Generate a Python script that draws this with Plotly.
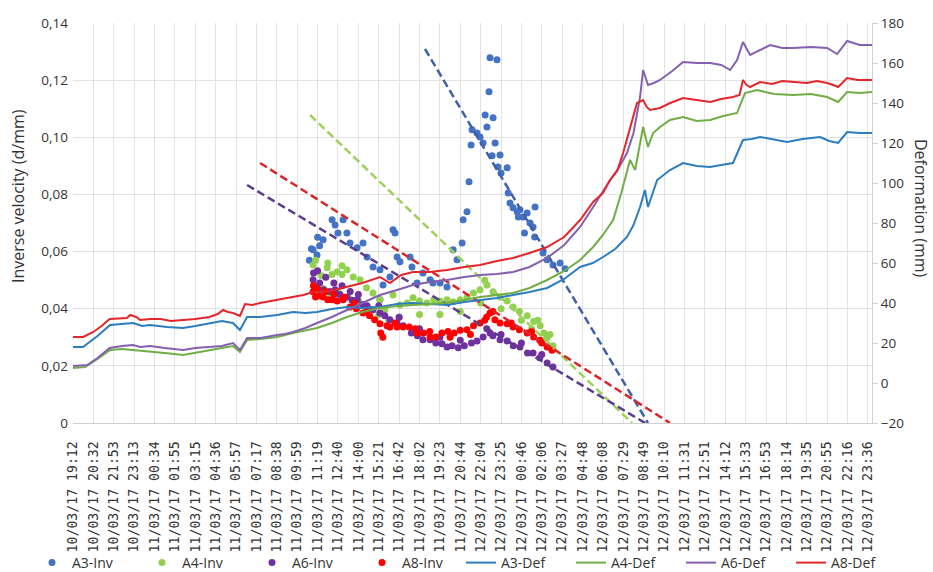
import plotly.graph_objects as go

# ---------------- tick labels (category axis, one label per gridline) ----------------
time_labels = [
    "10/03/17 19:12", "10/03/17 20:32", "10/03/17 21:53", "10/03/17 23:13",
    "11/03/17 00:34", "11/03/17 01:55", "11/03/17 03:15", "11/03/17 04:36",
    "11/03/17 05:57", "11/03/17 07:17", "11/03/17 08:38", "11/03/17 09:59",
    "11/03/17 11:19", "11/03/17 12:40", "11/03/17 14:00", "11/03/17 15:21",
    "11/03/17 16:42", "11/03/17 18:02", "11/03/17 19:23", "11/03/17 20:44",
    "12/03/17 22:04", "12/03/17 23:25", "12/03/17 00:46", "12/03/17 02:06",
    "12/03/17 03:27", "12/03/17 04:48", "12/03/17 06:08", "12/03/17 07:29",
    "12/03/17 08:49", "12/03/17 10:10", "12/03/17 11:31", "12/03/17 12:51",
    "12/03/17 14:12", "12/03/17 15:33", "12/03/17 16:53", "12/03/17 18:14",
    "12/03/17 19:35", "12/03/17 20:55", "12/03/17 22:16", "12/03/17 23:36",
]
inv_ticks = [0, 0.02, 0.04, 0.06, 0.08, 0.10, 0.12, 0.14]
inv_tick_text = ["0", "0,02", "0,04", "0,06", "0,08", "0,10", "0,12", "0,14"]
def_ticks = [-20, 0, 20, 40, 60, 80, 100, 120, 140, 160, 180]

# ---------------- deformation series (x = position in label units, y = mm) ----------------
a8_def_t = [0, 0.5, 1.0, 1.4, 1.8, 2.3, 2.65, 2.8, 2.94, 3.1, 3.3, 3.8, 4.3, 4.8, 5.4, 6.0, 6.7, 7.1, 7.36, 7.6,
            7.85, 8.19, 8.44, 8.8, 9.18, 9.7, 10.2, 10.8, 11.3, 11.8, 12.6, 13.4, 14.2, 15.06, 15.55, 16.1, 16.68, 17.5, 18.35, 19.2,
            19.97, 20.8, 21.59, 22.4, 23.26, 24.1, 24.88, 25.52, 26.0, 26.35, 26.7, 26.99, 27.3, 27.67, 27.97, 28.15, 28.31, 28.8, 29.3, 29.93,
            30.6, 31.26, 31.8, 32.38, 32.7, 32.87, 33.05, 33.22, 33.71, 34.3, 34.8, 35.33, 36.0, 36.5, 37.0, 37.3, 37.54, 37.98, 38.5, 39.2]
a8_def = [23.0, 23.0, 25.5, 28.5, 32.0, 32.5, 32.5, 34.0, 33.5, 33.0, 31.5, 32.0, 32.0, 31.0, 31.5, 32.0, 33.0, 34.5, 36.5, 35.5,
          35.0, 33.5, 39.5, 39.0, 40.0, 41.0, 42.0, 43.0, 44.0, 45.5, 46.0, 48.0, 50.0, 53.0, 50.0, 54.0, 55.5, 55.5, 56.5, 58.0,
          59.0, 61.0, 62.5, 65.0, 68.0, 73.0, 81.5, 90.5, 95.0, 101.5, 106.0, 115.0, 126.0, 140.0, 141.5, 138.0, 136.5, 137.5, 140.0, 142.5,
          141.5, 140.5, 142.0, 143.0, 144.0, 151.5, 149.0, 148.0, 150.5, 149.5, 151.0, 150.5, 150.0, 151.0, 150.0, 149.0, 148.0, 152.5, 151.5, 151.5]

a6_def_t = [0, 0.7, 1.2, 1.8, 2.4, 2.94, 3.3, 3.78, 4.5, 5.4, 6.0, 6.72, 7.3, 7.85, 8.19, 8.54, 9.2, 10.01, 10.4, 10.79,
            11.4, 11.97, 12.7, 13.44, 14.2, 15.06, 15.9, 16.68, 17.5, 18.35, 19.2, 19.97, 20.8, 21.59, 22.4, 23.26, 24.1, 24.88, 25.52, 26.35,
            26.8, 27.18, 27.5, 27.82, 27.97, 28.21, 28.5, 28.8, 29.4, 29.93, 30.6, 31.26, 31.8, 32.24, 32.58, 32.87, 33.22, 33.7, 34.2, 34.8,
            35.33, 36.2, 37.0, 37.49, 37.98, 38.6, 39.2]
a6_def = [8.5, 9.0, 12.5, 17.5, 18.5, 19.0, 18.0, 18.5, 17.5, 16.5, 17.5, 18.0, 18.5, 20.0, 16.5, 22.5, 22.5, 24.0, 24.5, 25.5,
          27.5, 30.0, 33.0, 36.5, 40.0, 44.0, 46.5, 49.0, 50.5, 51.5, 53.0, 54.0, 54.5, 55.5, 58.0, 62.5, 69.0, 78.0, 88.0, 101.5,
          108.0, 115.0, 125.0, 143.0, 156.5, 149.0, 150.0, 151.5, 156.0, 160.5, 160.0, 160.0, 159.0, 156.5, 161.5, 170.5, 164.0, 166.5, 169.0, 167.5,
          167.5, 168.0, 167.5, 164.5, 171.0, 169.0, 169.0]

a4_def_t = [0, 0.6, 1.2, 1.82, 2.4, 3.0, 3.78, 4.5, 5.4, 6.0, 6.72, 7.3, 7.85, 8.19, 8.54, 9.2, 10.01, 10.8, 11.97, 12.7,
            13.44, 14.2, 15.06, 15.9, 16.68, 17.5, 18.35, 19.2, 19.97, 20.8, 21.59, 22.4, 23.26, 24.1, 24.88, 25.52, 26.0, 26.5, 26.9, 27.33,
            27.58, 27.97, 28.21, 28.46, 28.8, 29.29, 29.93, 30.6, 31.26, 31.9, 32.58, 32.97, 33.56, 34.4, 35.33, 36.2, 37.0, 37.54, 37.98, 38.6,
            39.2]
a4_def = [7.5, 8.0, 12.0, 16.5, 17.0, 16.5, 15.5, 15.0, 14.0, 15.0, 16.5, 17.5, 18.5, 15.5, 21.5, 22.0, 23.0, 25.0, 27.5, 30.0,
          33.0, 35.5, 37.5, 38.5, 39.0, 39.5, 40.0, 41.5, 43.0, 44.0, 45.0, 47.5, 51.5, 56.0, 61.5, 68.0, 74.0, 81.5, 95.0, 111.5,
          106.5, 128.0, 118.0, 125.0, 128.0, 131.5, 133.0, 131.0, 131.5, 133.5, 135.0, 145.0, 146.5, 144.5, 144.0, 144.5, 143.0, 140.5, 145.5, 145.0,
          145.5]

a3_def_t = [0, 0.49, 1.2, 1.82, 2.4, 2.94, 3.4, 3.78, 4.6, 5.4, 6.0, 6.72, 7.3, 7.85, 8.19, 8.54, 9.2, 10.01, 10.79, 11.4,
            11.97, 12.7, 13.44, 14.2, 15.06, 15.9, 16.68, 17.5, 18.35, 19.2, 19.97, 20.8, 21.59, 22.4, 23.26, 24.1, 24.88, 25.5, 26.01, 26.6,
            27.18, 27.5, 27.82, 28.06, 28.21, 28.66, 29.29, 29.93, 30.6, 31.26, 31.8, 32.38, 32.87, 33.3, 33.71, 34.4, 35.03, 35.8, 36.65, 37.1,
            37.54, 37.98, 38.6, 39.2]
a3_def = [18.0, 18.0, 23.5, 29.0, 29.5, 30.0, 28.5, 29.0, 28.0, 27.5, 28.5, 30.0, 31.0, 30.0, 26.5, 33.0, 33.0, 34.0, 35.5, 35.0,
          35.5, 37.0, 38.0, 37.5, 38.0, 39.5, 40.0, 39.5, 39.0, 40.5, 41.5, 42.5, 44.0, 45.5, 47.5, 52.0, 58.0, 60.0, 63.0, 67.0,
          73.0, 79.0, 88.0, 96.5, 88.0, 101.5, 106.5, 110.0, 108.5, 108.0, 109.0, 110.0, 121.5, 122.0, 123.0, 121.5, 120.5, 122.0, 123.0, 121.0,
          120.0, 125.5, 125.0, 125.0]

# ---------------- inverse velocity series (d/mm) ----------------
a3_inv_t = [11.6, 11.7, 11.78, 11.97, 12.0, 12.1, 12.27, 12.71, 12.86, 13.0, 13.25, 13.44, 13.59, 13.94, 14.23,
            14.43, 14.72, 15.06, 15.21, 15.06, 15.55, 15.7, 15.8, 15.9, 16.04, 16.54, 16.63, 16.88, 17.17, 17.52,
            17.66, 18.01, 18.35, 18.65, 18.84, 19.09, 19.14, 19.33, 19.43, 19.53, 19.58, 19.82, 19.97, 20.12, 20.22,
            20.31, 20.41, 20.46, 20.56, 20.61, 20.71, 20.8, 20.85, 20.95, 21.0, 21.3, 21.35, 21.44, 21.59, 21.79,
            21.85, 21.93, 22.08, 22.15, 22.28, 22.42, 22.57, 22.65, 22.67, 23.06, 23.26, 23.55, 23.9, 24.14]
a3_inv = [0.057, 0.061, 0.0606, 0.0588, 0.065, 0.062, 0.0641, 0.0711, 0.0693, 0.0665, 0.0711, 0.0665, 0.063, 0.0613, 0.063,
          0.0581, 0.0546, 0.0536, 0.0483, 0.0431, 0.0511, 0.0676, 0.0665, 0.0581, 0.0564, 0.0581, 0.0546, 0.049, 0.0525, 0.0501,
          0.049, 0.049, 0.0476, 0.0606, 0.0571, 0.063, 0.0711, 0.0739, 0.0844, 0.0973, 0.1026, 0.1015, 0.1001, 0.098, 0.1078,
          0.1036, 0.1159, 0.1278, 0.0935, 0.1068, 0.098, 0.1271, 0.0896, 0.0938, 0.0875, 0.0893, 0.0805, 0.077, 0.0753, 0.0739,
          0.0721, 0.0746, 0.0721, 0.0665, 0.0735, 0.07, 0.0686, 0.0651, 0.0756, 0.0595, 0.0571, 0.0553, 0.056, 0.054]

a4_inv_t = [11.78, 11.97, 12.2, 12.47, 12.7, 12.96, 13.2, 13.44, 13.75, 14.08, 14.4, 14.72, 15.06, 15.3, 15.7,
            16.04, 16.4, 16.68, 17.0, 17.37, 17.7, 18.0, 18.35, 18.65, 19.0, 19.33, 19.65, 19.97, 20.31, 20.61,
            20.95, 21.3, 21.59, 21.9, 22.28, 22.6, 22.92, 23.1, 23.26, 23.55,
            11.8, 12.0, 12.3, 12.6, 13.0, 13.5, 14.0, 14.5, 15.0, 15.5, 16.0, 17.0, 18.0, 19.0, 20.0, 21.0, 22.0, 22.5, 23.0,
            11.9, 12.5, 13.2, 20.2, 22.8, 23.4]
a4_inv = [0.0553, 0.0529, 0.0515, 0.0543, 0.052, 0.0529, 0.052, 0.0536, 0.0511, 0.0501, 0.0473, 0.0455, 0.0431, 0.0396, 0.0448,
          0.0413, 0.042, 0.0438, 0.0427, 0.042, 0.0431, 0.0427, 0.0431, 0.0424, 0.0431, 0.0441, 0.0455, 0.0466, 0.0483, 0.0459,
          0.0441, 0.0427, 0.0406, 0.039, 0.0375, 0.0355, 0.034, 0.0315, 0.0298, 0.027,
          0.048, 0.046, 0.047, 0.045, 0.046, 0.044, 0.043, 0.04, 0.038, 0.036, 0.037, 0.038, 0.038, 0.039, 0.042, 0.04, 0.036, 0.033, 0.029,
          0.057, 0.056, 0.055, 0.05, 0.036, 0.031]

a6_inv_t = [11.78, 11.9, 12.1, 12.3, 12.6, 12.86, 13.1, 13.44, 13.7, 13.94, 14.2, 14.43, 14.72, 15.06, 15.3,
            15.55, 15.9, 16.2, 16.6, 16.9, 17.17, 17.52, 17.8, 18.1, 18.35, 18.6, 18.9, 19.2, 19.55, 19.82,
            20.12, 20.46, 20.6, 20.95, 21.3, 21.6, 21.93, 22.3, 22.57, 22.9, 23.26, 23.55,
            11.8, 12.0, 12.4, 12.8, 13.2, 13.6, 14.0, 15.0, 16.0, 17.0, 18.0, 19.0, 20.3, 21.0, 22.0, 23.0]
a6_inv = [0.0501, 0.0476, 0.049, 0.0466, 0.046, 0.0466, 0.045, 0.0441, 0.043, 0.0431, 0.0415, 0.041, 0.0396, 0.0385, 0.0375,
          0.0361, 0.035, 0.034, 0.0315, 0.0305, 0.0291, 0.0291, 0.028, 0.0277, 0.0266, 0.027, 0.0263, 0.027, 0.028, 0.0287,
          0.0301, 0.0315, 0.0305, 0.0291, 0.0287, 0.027, 0.0266, 0.0245, 0.0245, 0.0228, 0.021, 0.0196,
          0.0525, 0.0533, 0.051, 0.049, 0.048, 0.046, 0.045, 0.041, 0.037, 0.033, 0.03, 0.029, 0.033, 0.031, 0.028, 0.024]

a8_inv_t = [11.78, 11.9, 12.1, 12.27, 12.5, 12.7, 12.96, 13.25, 13.59, 13.9, 14.23, 14.55, 14.8, 15.06, 15.1,
            15.2, 15.4, 15.55, 15.9, 16.2, 16.5, 16.88, 17.2, 17.52, 17.8, 18.1, 18.4, 18.7, 19.0, 19.33,
            19.65, 19.97, 20.3, 20.46, 20.7, 20.95, 21.3, 21.59, 21.9, 22.28, 22.6, 22.9, 23.26, 23.5,
            11.8, 12.0, 12.4, 12.8, 13.3, 13.8, 14.4, 15.8, 16.8, 17.5, 18.5, 19.5, 20.2, 20.6, 21.5, 22.5, 23.0]
a8_inv = [0.0459, 0.0441, 0.0445, 0.0441, 0.0431, 0.0431, 0.0427, 0.0431, 0.0406, 0.04, 0.0385, 0.0375, 0.0361, 0.0347, 0.0315,
          0.03, 0.034, 0.0336, 0.0336, 0.0336, 0.0336, 0.0315, 0.0315, 0.0301, 0.0301, 0.0315, 0.032, 0.0315, 0.0325, 0.0326,
          0.034, 0.035, 0.0371, 0.0385, 0.0361, 0.035, 0.0347, 0.0336, 0.0326, 0.0315, 0.0301, 0.029, 0.0266, 0.0255,
          0.048, 0.047, 0.046, 0.045, 0.044, 0.042, 0.039, 0.035, 0.033, 0.032, 0.03, 0.031, 0.036, 0.039, 0.035, 0.032, 0.028]

# ---------------- linear trend lines of inverse velocity ----------------
a3_trend_t = [17.27, 28.21]
a3_trend = [0.1309, 0.0]
a4_trend_t = [11.63, 27.43]
a4_trend = [0.1078, 0.0]
a6_trend_t = [8.54, 28.07]
a6_trend = [0.0833, 0.0]
a8_trend_t = [9.18, 29.29]
a8_trend = [0.091, 0.0]

FONT = "Open Sans"
TXT = "#333333"

fig = go.Figure()

inv_series = [
    ("A3-Inv", a3_inv_t, a3_inv, "#4472C4"),
    ("A4-Inv", a4_inv_t, a4_inv, "#92D050"),
    ("A6-Inv", a6_inv_t, a6_inv, "#7030A0"),
    ("A8-Inv", a8_inv_t, a8_inv, "#FF0000"),
]
for name, t, v, col in inv_series:
    fig.add_trace(go.Scatter(x=t, y=v, name=name, mode="markers",
                             marker=dict(color=col, size=7, line=dict(width=0)),
                             yaxis="y", legend="legend"))

trend_series = [
    (a3_trend_t, a3_trend, "#3F62A6"),
    (a4_trend_t, a4_trend, "#9CD25A"),
    (a6_trend_t, a6_trend, "#5B3C8C"),
    (a8_trend_t, a8_trend, "#D9262B"),
]
for t, v, col in trend_series:
    fig.add_trace(go.Scatter(x=t, y=v, mode="lines", showlegend=False, hoverinfo="skip",
                             line=dict(color=col, width=2.5, dash="8px,4px"), yaxis="y"))

def_series = [
    ("A3-Def", a3_def_t, a3_def, "#2C7DBF"),
    ("A4-Def", a4_def_t, a4_def, "#70AD47"),
    ("A6-Def", a6_def_t, a6_def, "#8460B0"),
    ("A8-Def", a8_def_t, a8_def, "#E3262A"),
]
for name, t, d, col in def_series:
    fig.add_trace(go.Scatter(x=t, y=d, name=name, mode="lines",
                             line=dict(color=col, width=2), yaxis="y2", legend="legend2"))

legend_common = dict(orientation="h", xref="container", yref="container", y=1 - 563 / 572,
                     xanchor="left", yanchor="middle", entrywidth=65, entrywidthmode="pixels",
                     font=dict(family=FONT, size=14, color=TXT), bgcolor="rgba(0,0,0,0)",
                     traceorder="normal")

fig.update_layout(
    width=933, height=572,
    margin=dict(l=73, r=61, t=23, b=149, autoexpand=False),
    paper_bgcolor="white", plot_bgcolor="white",
    font=dict(family=FONT, size=14, color=TXT),
    xaxis=dict(range=[0, 39.2], tickmode="array", tickvals=list(range(len(time_labels))),
               ticktext=time_labels, tickangle=-90, automargin=False,
               tickfont=dict(family="DejaVu Sans Mono", size=13.2, color=TXT),
               showgrid=True, gridcolor="#e3e3e3", gridwidth=1,
               showline=True, linecolor="#d0d0d0", ticks="", zeroline=False,
               ticklabelstandoff=12),
    yaxis=dict(range=[0, 0.14], tickmode="array", tickvals=inv_ticks, ticktext=inv_tick_text,
               tickfont=dict(family=FONT, size=13.5, color=TXT), automargin=False,
               showgrid=True, gridcolor="#e3e3e3", zeroline=False, showline=False,
               ticks="", ticklabelstandoff=4),
    yaxis2=dict(range=[-20, 180], overlaying="y", side="right", tickmode="array", tickvals=def_ticks,
                tickfont=dict(family=FONT, size=13.5, color=TXT), automargin=False,
                showgrid=False, zeroline=False, showline=True, linecolor="#d0d0d0",
                ticks="outside", ticklen=5, tickcolor="#d0d0d0"),
    legend=dict(legend_common, x=32 / 933),
    legend2=dict(legend_common, x=461 / 933),
    annotations=[
        dict(text="Inverse velocity (d/mm)", xref="paper", yref="paper", x=(18 - 73) / 799, y=(423 - 196) / 400,
             showarrow=False, textangle=-90, font=dict(family=FONT, size=16, color=TXT),
             xanchor="center", yanchor="middle"),
        dict(text="Deformation (mm)", xref="paper", yref="paper", x=(921 - 73) / 799, y=(423 - 208) / 400,
             showarrow=False, textangle=90, font=dict(family=FONT, size=16, color=TXT),
             xanchor="center", yanchor="middle"),
    ],
)

fig.write_html("out.html")
